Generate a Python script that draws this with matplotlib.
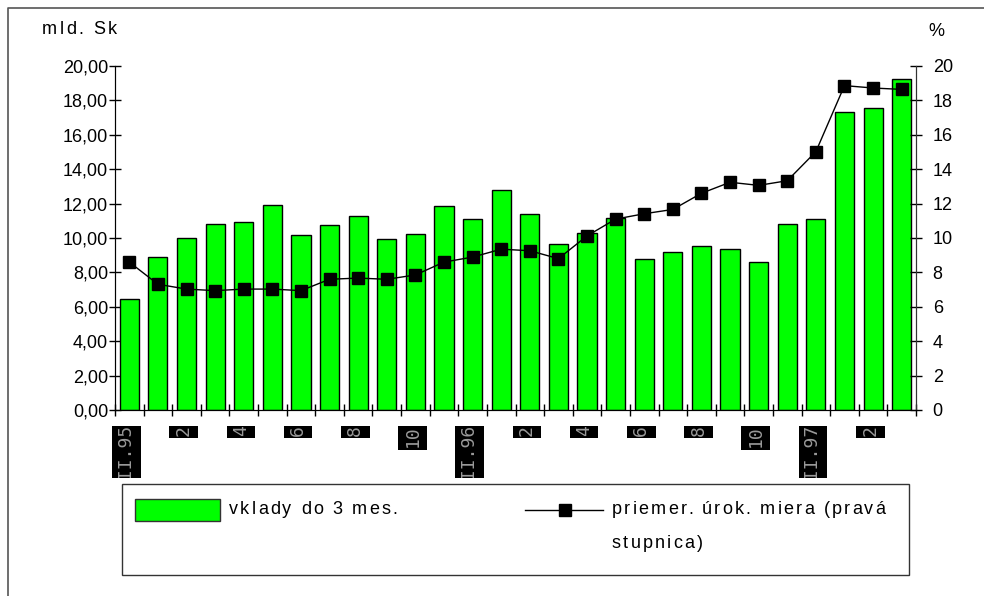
import matplotlib.pyplot as plt
import numpy as np
from matplotlib.patches import Rectangle
from matplotlib.lines import Line2D
import matplotlib.transforms as mtransforms

plt.rcParams['font.family'] = ['Liberation Sans', 'DejaVu Sans']

# monthly data, XII.1995 .. III.1998
deposits = [6.45, 8.91, 10.02, 10.83, 10.95, 11.94, 10.15, 10.74, 11.26, 9.94,
            10.25, 11.84, 11.12, 12.79, 11.41, 9.65, 10.31, 11.14, 8.80, 9.19,
            9.53, 9.34, 8.60, 10.79, 11.09, 17.33, 17.58, 19.24]
rate = [8.60, 7.31, 7.03, 6.94, 7.03, 7.03, 6.94, 7.60, 7.67, 7.60,
        7.85, 8.60, 8.89, 9.35, 9.26, 8.80, 10.12, 11.10, 11.41, 11.66,
        12.60, 13.24, 13.06, 13.33, 15.02, 18.86, 18.72, 18.64]
month_labels = ['XII.95', '', '2', '', '4', '', '6', '', '8', '', '10', '',
                'XII.96', '', '2', '', '4', '', '6', '', '8', '', '10', '',
                'XII.97', '', '2', '']
left_ticks = np.arange(0, 21, 2)

W, H = 984, 596
fig = plt.figure(figsize=(W / 100, H / 100), dpi=100)
renderer = fig.canvas.get_renderer()


def fx(x):
    return x / W


def fy(y):
    return 1 - y / H


def text_width(s, size):
    # width in pixels, keeping trailing spaces
    a = fig.text(0, 0, s + 'x', fontsize=size)
    b = fig.text(0, 0, 'x', fontsize=size)
    w = a.get_window_extent(renderer).width - b.get_window_extent(renderer).width
    a.remove()
    b.remove()
    return w


def spaced_text(x, y, s, size=13, extra=2.2):
    # draws s char by char with a little extra letter spacing
    for k, ch in enumerate(s):
        if ch == ' ':
            continue
        cx = x + text_width(s[:k], size) + k * extra
        fig.text(fx(cx), fy(y), ch, fontsize=size, va='center', ha='left')


ax = fig.add_axes([fx(115), fy(410), fx(916) - fx(115), fy(66) - fy(410)])
x = np.arange(len(deposits))
ax.bar(x, deposits, width=0.67, color='#00ff00', edgecolor='black', linewidth=1, zorder=2)
ax.set_xlim(-0.5, len(deposits) - 0.5)
ax.set_ylim(0, 20)
ax.set_yticks(left_ticks)
ax.set_yticklabels([f'{v:.2f}'.replace('.', ',') for v in left_ticks])
ax.set_xticks(np.arange(-0.5, len(deposits), 1))
ax.set_xticklabels([])
ax.tick_params(axis='both', direction='inout', length=8, width=1, labelsize=13, colors='black')
ax.tick_params(axis='y', pad=1)
ax.spines['top'].set_visible(False)
for s in ['left', 'bottom', 'right']:
    ax.spines[s].set_color('#333333')

ax2 = ax.twinx()
ax2.plot(x, rate, color='black', linewidth=1, marker='s', markersize=8,
         markerfacecolor='black', markeredgecolor='black', zorder=3)
ax2.set_ylim(0, 20)
ax2.set_yticks(left_ticks)
ax2.set_yticklabels([str(v) for v in left_ticks])
ax2.tick_params(axis='y', direction='inout', length=8, width=1, labelsize=13, pad=8)
ax2.spines['top'].set_visible(False)
ax2.spines['right'].set_color('#333333')

# month labels in black boxes below the axis
trans = mtransforms.blended_transform_factory(ax.transData, fig.transFigure)
for i, lab in enumerate(month_labels):
    if not lab:
        continue
    if lab.startswith('XII'):
        h = 52
    elif len(lab) == 2:
        h = 24
    else:
        h = 12
    box = Rectangle((i - 0.6, fy(426 + h)), 1.0, fy(426) - fy(426 + h),
                    transform=trans, facecolor='black', edgecolor='none', clip_on=False)
    fig.add_artist(box)
    t = fig.text(i - 0.1, fy(425), lab, transform=trans, rotation=90, ha='center', va='top',
                 color='#9a9a9a', fontsize=13, family='DejaVu Sans Mono')
    t.set_clip_path(box)

spaced_text(42, 29, 'mld. Sk', extra=2.5)
fig.text(fx(928), fy(32), '%', fontsize=13, va='center', ha='left')

# legend
fig.add_artist(Rectangle((fx(122), fy(575)), fx(909) - fx(122), fy(484) - fy(575),
                         transform=fig.transFigure, facecolor='white', edgecolor='#333333', linewidth=1))
fig.add_artist(Rectangle((fx(135), fy(521)), fx(220) - fx(135), fy(499) - fy(521),
                         transform=fig.transFigure, facecolor='#00ff00', edgecolor='#333333', linewidth=1))
spaced_text(229, 510, 'vklady do 3 mes.')
fig.add_artist(Line2D([fx(525), fx(603)], [fy(510), fy(510)], transform=fig.transFigure,
                      color='black', linewidth=1))
fig.add_artist(Line2D([fx(565)], [fy(510)], transform=fig.transFigure, marker='s',
                      markersize=8, color='black'))
spaced_text(612, 510, 'priemer. úrok. miera (pravá')
spaced_text(612, 543, 'stupnica)')

# outer frame
fig.add_artist(Line2D([fx(7.5), fx(7.5), fx(990)], [0, fy(7.5), fy(7.5)], transform=fig.transFigure,
                      color='#555555', linewidth=1.2))

fig.savefig('out.png', dpi=100)
